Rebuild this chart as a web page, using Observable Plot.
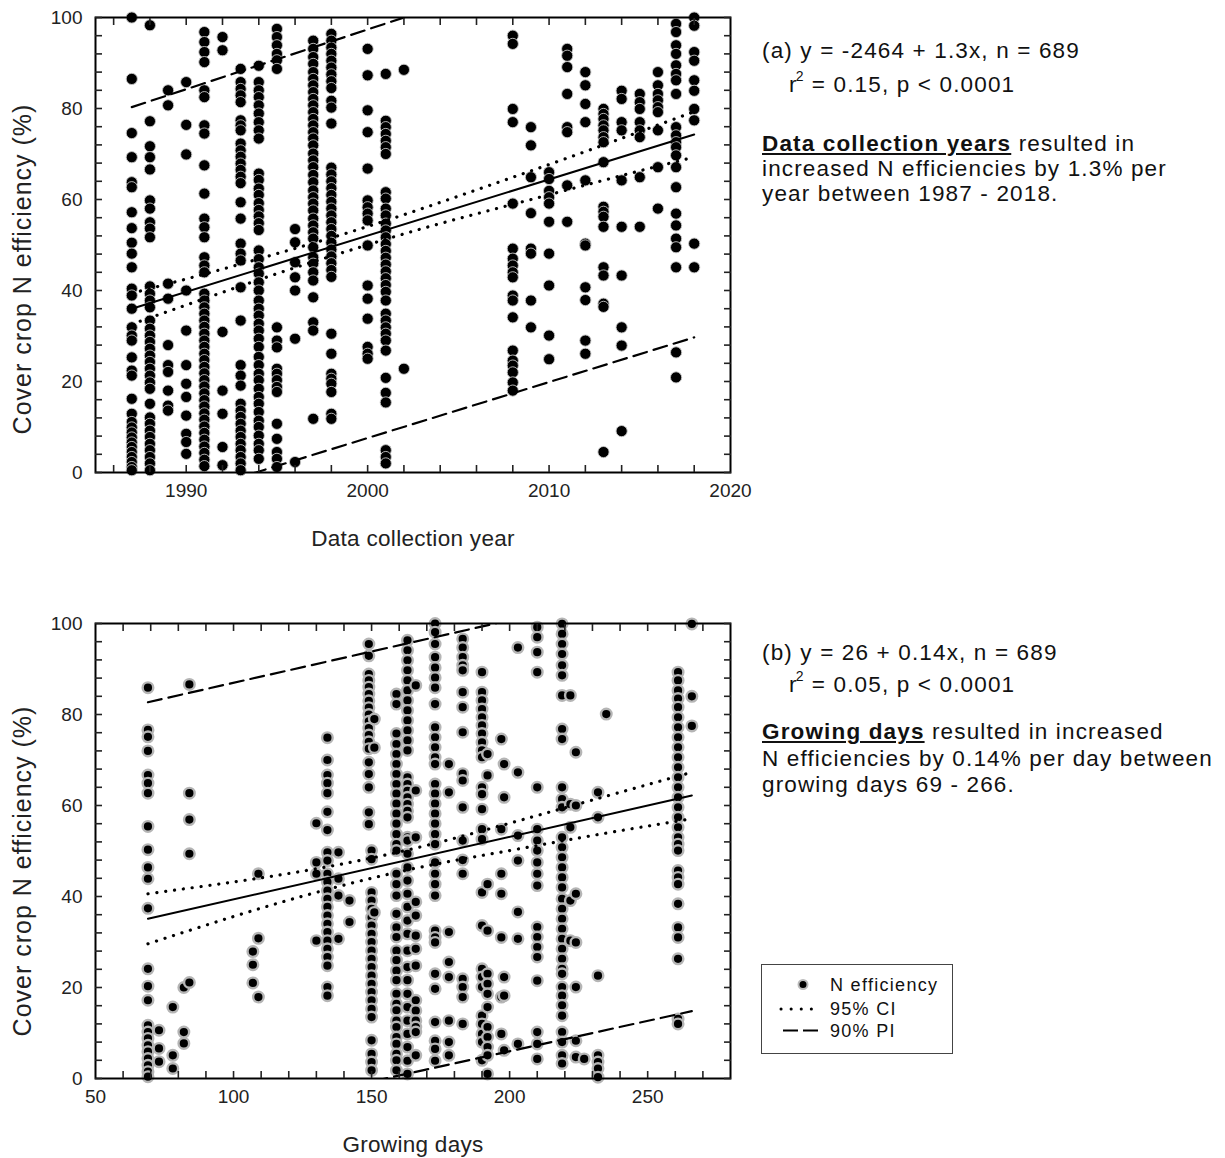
<!DOCTYPE html>
<html><head><meta charset="utf-8">
<script src="https://cdn.jsdelivr.net/npm/d3@7"></script>
<script src="https://cdn.jsdelivr.net/npm/@observablehq/plot@0.6"></script>
<style>
body{margin:0;background:#fff;font-family:Arial,"Liberation Sans",sans-serif;}
#wrap{position:relative;width:1225px;height:1158px;background:#fff;}
.plot{position:absolute;left:0;}
.note{position:absolute;font-size:22.5px;letter-spacing:1.15px;color:#111;white-space:nowrap;line-height:26px;}
.note sup{font-size:14px;letter-spacing:0;vertical-align:0;position:relative;top:-11px;margin-left:-2px;margin-right:1px;}
#legend{position:absolute;left:761px;top:964px;width:190px;height:88px;border:1.5px solid #444;font-size:18px;letter-spacing:1.3px;color:#111;}
#legend svg{position:absolute;left:0;top:0;}
#legend span{position:absolute;left:68px;white-space:nowrap;line-height:20px;}
</style></head>
<body><div id="wrap">
<div id="pa" class="plot" style="top:0"></div>
<div id="pb" class="plot" style="top:606px"></div>

<div class="note" style="left:762px;top:38px">(a) y = -2464 + 1.3x, n = 689</div>
<div class="note" style="left:789px;top:72px">r<sup>2</sup> = 0.15, p &lt; 0.0001</div>
<div class="note" style="left:762px;top:131px;line-height:25px"><b><u>Data collection years</u></b> resulted in<br>increased N efficiencies by 1.3% per<br>year between 1987 - 2018.</div>

<div class="note" style="left:762px;top:640px">(b) y = 26 + 0.14x, n = 689</div>
<div class="note" style="left:789px;top:672px">r<sup>2</sup> = 0.05, p &lt; 0.0001</div>
<div class="note" style="left:762px;top:719px;line-height:26.5px"><b><u>Growing days</u></b> resulted in increased<br>N efficiencies by 0.14% per day between<br>growing days 69 - 266.</div>

<div id="legend">
  <svg width="190" height="88">
    <circle cx="41" cy="19.5" r="4.5" fill="#000" stroke="#bbb" stroke-width="2"/>
    <line x1="19" x2="52" y1="44" y2="44" stroke="#000" stroke-width="3" stroke-dasharray="0.1,10" stroke-linecap="round"/>
    <line x1="21" x2="57" y1="65.5" y2="65.5" stroke="#000" stroke-width="2" stroke-dasharray="15,5"/>
  </svg>
  <span style="top:9.5px">N efficiency</span>
  <span style="top:33.5px">95% CI</span>
  <span style="top:55.5px">90% PI</span>
</div>
</div>
<script>
// ---------- Panel (a): data collection year ----------
const aYear = [1987, 1988, 1989, 1990, 1991, 1992, 1993, 1994, 1995, 1996, 1997, 1998, 2000, 2001, 2002, 2008, 2009, 2010, 2011, 2012, 2013, 2014, 2015, 2016, 2017, 2018];
const aEff = [
  [100, 86.5, 74.6, 69.3, 63.8, 62.7, 57.2, 53.7, 50.5, 48.1, 45.1, 40.4, 38.9, 36.0, 31.9, 30.1, 29.0, 25.3, 22.4, 21.3, 16.2, 12.9, 11.1, 9.9, 8.8, 7.7, 6.6, 5.6, 4.5, 3.4, 2.3, 1.2, 0.5],
  [98.3, 77.2, 71.7, 69.3, 66.6, 59.8, 58.0, 55.0, 53.6, 51.7, 40.9, 39.3, 37.8, 36.3, 33.4, 31.6, 30.1, 28.7, 27.2, 25.7, 24.3, 22.8, 21.3, 19.8, 18.4, 15.1, 12.1, 10.7, 9.2, 7.8, 6.3, 4.9, 3.4, 2.0, 0.5],
  [84.0, 80.7, 41.5, 38.2, 28.0, 23.6, 22.1, 18.0, 14.7, 13.6],
  [85.8, 76.4, 69.9, 40.0, 31.2, 23.6, 19.5, 16.6, 12.5, 8.5, 6.7, 4.1],
  [96.8, 94.6, 92.4, 90.2, 84.0, 82.5, 76.3, 74.5, 67.5, 61.3, 55.8, 53.9, 51.7, 47.3, 45.5, 44.0, 39.3, 37.8, 36.3, 34.9, 33.4, 32.0, 30.5, 29.0, 27.6, 26.1, 24.7, 23.2, 21.8, 20.3, 18.9, 17.4, 15.9, 14.5, 13.0, 11.6, 10.1, 8.7, 7.2, 5.7, 4.3, 2.8, 1.4],
  [95.7, 92.8, 30.9, 18.0, 12.9, 5.6, 1.6],
  [88.7, 85.8, 84.3, 82.9, 81.4, 77.4, 76.3, 75.2, 72.3, 70.8, 69.4, 67.9, 66.5, 65.0, 63.6, 59.4, 55.8, 50.3, 48.1, 46.6, 40.7, 33.4, 23.6, 21.3, 19.1, 15.1, 13.6, 12.2, 10.7, 9.2, 7.8, 6.3, 4.9, 3.4, 2.0, 0.5],
  [89.4, 85.8, 84.0, 82.5, 80.7, 78.9, 77.0, 75.2, 73.4, 65.7, 64.3, 62.4, 61.0, 59.2, 57.7, 56.3, 54.8, 53.3, 48.8, 46.9, 45.1, 43.7, 41.8, 40.0, 37.8, 36.0, 34.5, 32.7, 31.2, 29.4, 27.6, 25.4, 23.6, 21.7, 20.3, 18.4, 16.6, 15.1, 13.3, 11.4, 10.0, 8.1, 6.3, 4.9, 3.0],
  [97.5, 95.7, 93.9, 92.0, 90.6, 88.7, 31.9, 29.0, 27.5, 22.8, 21.7, 20.3, 18.8, 17.7, 10.7, 7.4, 4.5, 3.0, 1.2],
  [53.5, 50.6, 46.2, 42.9, 40.0, 29.4, 2.3],
  [94.9, 93.1, 91.3, 89.8, 88.0, 86.5, 85.1, 83.6, 82.1, 80.7, 79.2, 77.7, 76.3, 74.8, 73.4, 71.9, 70.1, 68.6, 67.1, 65.4, 63.8, 62.0, 60.5, 59.1, 57.6, 55.8, 54.3, 52.8, 51.4, 49.5, 47.3, 45.9, 44.0, 42.2, 38.5, 33.0, 31.2, 11.8],
  [96.4, 94.9, 93.4, 92.0, 90.5, 89.0, 87.5, 86.0, 84.5, 81.7, 80.2, 76.7, 67.0, 65.5, 64.0, 62.5, 61.0, 59.5, 58.0, 56.5, 55.0, 53.5, 52.0, 50.5, 49.0, 47.5, 46.0, 44.5, 43.0, 30.5, 26.1, 21.7, 20.6, 19.5, 17.7, 12.9, 11.8],
  [93.1, 87.3, 79.6, 74.8, 66.8, 59.8, 58.3, 56.9, 55.4, 49.9, 41.1, 38.2, 33.8, 27.6, 26.1, 25.0],
  [87.6, 77.3, 75.9, 74.4, 72.9, 71.5, 70.0, 61.6, 60.2, 58.0, 56.5, 54.7, 53.2, 51.7, 50.2, 48.7, 47.2, 45.7, 44.2, 42.7, 41.2, 39.7, 37.8, 34.9, 33.4, 31.9, 30.5, 29.0, 26.8, 20.8, 17.5, 15.4, 4.9, 3.4, 2.0],
  [88.5, 22.8],
  [96.0, 94.2, 79.9, 77.0, 59.1, 49.2, 47.0, 45.5, 44.0, 42.9, 38.9, 37.8, 34.1, 26.8, 24.6, 23.5, 22.0, 19.8, 18.0],
  [75.9, 71.9, 64.9, 57.0, 49.2, 48.1, 37.8, 31.9],
  [66.0, 64.5, 61.9, 60.5, 59.1, 55.1, 48.1, 41.1, 30.1, 24.9],
  [93.1, 91.6, 89.1, 83.2, 75.9, 74.8, 63.1, 55.1],
  [88.0, 85.1, 81.0, 77.0, 64.2, 50.3, 49.9, 40.7, 37.9, 29.0, 26.1],
  [79.9, 78.8, 77.7, 76.3, 75.2, 73.7, 72.6, 68.2, 58.4, 57.3, 56.2, 54.0, 45.1, 43.3, 37.1, 36.4, 4.5],
  [83.9, 82.1, 77.0, 75.2, 64.2, 54.0, 43.3, 31.9, 27.9, 9.1],
  [83.2, 81.4, 79.9, 77.0, 75.2, 73.7, 64.9, 54.0],
  [88.0, 85.1, 83.2, 81.8, 80.3, 79.2, 75.2, 67.1, 58.0],
  [98.6, 96.8, 93.9, 92.0, 89.5, 87.6, 86.2, 83.2, 75.9, 74.1, 72.6, 71.5, 69.7, 67.1, 62.7, 56.9, 54.3, 51.4, 49.5, 45.1, 26.4, 20.9],
  [100, 98.2, 92.4, 90.5, 86.2, 83.9, 79.9, 77.4, 50.3, 45.1]
];
const aFitX = [1987, 2018];
const aFitY = [36.0, 74.3];
const aCiX = [1987, 1991, 1995, 1999, 2003, 2007, 2011, 2015, 2018];
const aCiLo = [32.6, 38.2, 43.7, 48.8, 53.6, 57.9, 62.1, 66.3, 69.3];
const aCiHi = [39.4, 43.6, 48.1, 52.8, 58.0, 63.5, 69.1, 74.9, 79.3];
const aPiX = [1987, 2018];
const aPiLo = [-8.4, 29.7];
const aPiHi = [80.3, 121.0];
const aXTicks = [1990, 2000, 2010, 2020];

// ---------- Panel (b): growing days ----------
const bDays = [69, 73, 78, 82, 84, 107, 109, 130, 134, 138, 142, 149, 150, 151, 159, 163, 166, 173, 178, 183, 190, 192, 197, 198, 203, 210, 219, 222, 224, 227, 232, 235, 261, 266];
const bEff = [
  [85.9, 76.6, 75.1, 72.0, 66.7, 64.9, 62.7, 55.4, 50.3, 46.4, 43.9, 37.4, 24.1, 20.3, 17.2, 11.7, 10.2, 8.8, 7.3, 5.9, 4.4, 2.9, 1.5, 0.4],
  [10.6, 6.6, 3.7],
  [15.7, 5.1, 2.2],
  [20.0, 10.2, 7.7],
  [86.6, 62.7, 56.9, 49.4, 21.1],
  [27.9, 25.0, 21.0],
  [45.0, 30.8, 17.9],
  [56.1, 47.5, 45.0, 30.3],
  [74.9, 70.0, 66.7, 64.9, 62.7, 58.6, 54.6, 49.7, 47.9, 45.0, 43.2, 41.3, 39.5, 37.7, 35.8, 34.0, 32.2, 30.3, 28.5, 26.7, 24.8, 20.1, 18.2],
  [49.7, 43.9, 40.2, 30.7],
  [39.1, 34.4],
  [95.5, 92.9, 88.9, 87.5, 86.0, 84.5, 83.0, 81.5, 80.0, 78.5, 77.0, 75.5, 74.0, 72.5, 69.5, 66.9, 64.0, 58.5, 55.9],
  [50.1, 48.2, 40.9, 39.1, 37.3, 35.4, 33.6, 31.8, 30.0, 28.1, 26.3, 24.5, 22.6, 20.8, 19.0, 17.2, 15.3, 13.5, 8.4, 5.4, 3.6, 1.8],
  [79.0, 72.7, 36.5],
  [84.5, 82.3, 75.8, 73.5, 71.3, 69.1, 66.9, 64.7, 62.6, 60.4, 58.2, 56.0, 53.7, 51.5, 50.1, 45.0, 42.7, 40.2, 36.2, 33.2, 31.1, 28.1, 26.0, 23.7, 21.6, 18.6, 16.4, 15.0, 12.7, 11.3, 9.1, 7.6, 5.4, 4.0, 1.8],
  [96.3, 94.1, 91.9, 89.7, 87.5, 85.3, 83.1, 80.9, 78.7, 76.5, 74.3, 72.1, 66.2, 64.7, 63.2, 61.8, 60.3, 58.8, 57.4, 53.0, 52.3, 49.4, 46.4, 43.5, 40.6, 37.7, 34.7, 31.8, 28.1, 24.5, 21.6, 18.6, 15.7, 12.7, 9.8, 6.9, 3.9, 1.0],
  [86.4, 63.3, 53.0, 38.8, 35.8, 31.4, 28.5, 24.8, 17.2, 14.9, 12.7, 11.3, 10.2, 5.1],
  [100, 98.1, 95.5, 92.6, 90.3, 88.1, 85.9, 82.3, 77.2, 75.0, 72.8, 70.6, 69.1, 64.7, 62.6, 60.4, 58.2, 56.0, 53.7, 51.5, 47.5, 45.0, 42.7, 40.2, 32.5, 31.0, 29.9, 23.0, 19.7, 12.4, 8.3, 6.5, 3.9],
  [69.1, 62.9, 32.2, 25.6, 22.3, 12.7, 8.0, 5.1],
  [96.6, 94.7, 92.6, 90.8, 89.7, 84.9, 81.6, 76.1, 67.0, 65.5, 59.6, 52.3, 48.0, 45.0, 21.9, 20.1, 17.9, 12.0],
  [89.3, 84.9, 83.1, 81.2, 79.4, 77.6, 75.8, 73.9, 72.1, 70.6, 64.0, 62.5, 59.2, 54.8, 52.6, 40.9, 33.6, 24.1, 22.3, 20.1, 13.8, 12.0, 9.8, 8.0, 4.0],
  [71.3, 66.6, 42.7, 32.5, 23.0, 20.8, 18.6, 15.7, 11.3, 9.1, 6.9, 5.1, 1.0],
  [74.6, 54.8, 45.0, 40.6, 31.0, 17.9, 9.8],
  [69.1, 61.8, 22.3, 18.2, 6.2],
  [94.7, 67.3, 53.4, 47.9, 36.6, 30.7, 7.6],
  [99.2, 97.0, 93.7, 89.3, 64.0, 54.8, 52.3, 50.1, 47.5, 45.0, 42.4, 33.3, 31.1, 28.9, 26.7, 21.5, 10.2, 7.6, 4.3],
  [99.9, 97.7, 95.5, 93.3, 90.8, 88.6, 84.2, 76.8, 74.6, 64.0, 61.4, 59.6, 53.0, 50.8, 48.6, 46.4, 44.2, 42.0, 39.5, 37.3, 35.1, 32.9, 30.7, 28.5, 26.3, 24.1, 23.0, 20.1, 18.2, 16.1, 13.8, 10.2, 8.0, 5.1, 3.3],
  [84.2, 60.3, 55.2, 39.1, 30.3],
  [71.7, 60.0, 40.6, 29.9, 20.1, 8.3, 4.7],
  [4.3],
  [62.9, 57.4, 22.6, 5.1, 3.6, 2.2, 0.3],
  [80.1],
  [89.3, 87.5, 85.3, 83.5, 81.6, 79.4, 77.2, 75.0, 72.8, 70.6, 68.4, 66.2, 64.0, 61.8, 59.6, 57.4, 55.2, 53.0, 51.5, 50.1, 45.7, 44.2, 42.7, 38.4, 33.2, 31.0, 26.3, 13.1, 12.0],
  [99.9, 84.0, 77.5]
];
const bFitX = [69, 266];
const bFitY = [35.1, 62.2];
const bCiX = [69, 100, 130, 165, 200, 230, 266];
const bCiLo = [29.6, 35.6, 40.9, 46.1, 50.1, 53.4, 57.1];
const bCiHi = [40.6, 43.2, 46.1, 50.5, 56.1, 61.2, 67.3];
const bPiX = [69, 266];
const bPiLo = [-11.5, 14.8];
const bPiHi = [82.7, 109.8];
const bXTicks = [50, 100, 150, 200, 250];

const yLabels = [0, 20, 40, 60, 80, 100];
const yMinor = d3.range(0, 101, 4);
const yTitle = "Cover crop N efficiency (%)";

const FONT = 'Arial, "Liberation Sans", sans-serif';

function flatten(xs, ys) {
  const out = [];
  xs.forEach((x, i) => ys[i].forEach(y => out.push({x, y})));
  return out;
}
function pairs(xs, ys) { return xs.map((x, i) => ({x, y: ys[i]})); }

function panel(o) {
  const svg = Plot.plot({
    width: 760, height: 560,
    marginLeft: 95, marginRight: 30, marginTop: 17, marginBottom: 88,
    x: {domain: o.xDomain, label: null},
    y: {domain: [0, 100], label: null},
    style: {fontFamily: FONT, fontSize: "19px", color: "#222", background: "white", overflow: "visible"},
    marks: [
      Plot.dot(o.pts, {x: "x", y: "y", r: o.r, fill: "black", stroke: o.dotStroke, strokeWidth: o.dotStrokeWidth}),
      Plot.line(pairs(o.piX, o.piLo), {x: "x", y: "y", stroke: "black", strokeWidth: 2.2, strokeDasharray: "14,7", clip: true}),
      Plot.line(pairs(o.piX, o.piHi), {x: "x", y: "y", stroke: "black", strokeWidth: 2.2, strokeDasharray: "14,7", clip: true}),
      Plot.line(pairs(o.ciX, o.ciLo), {x: "x", y: "y", stroke: "black", strokeWidth: 3.2, strokeDasharray: "0.1,8.8", strokeLinecap: "round", curve: "natural"}),
      Plot.line(pairs(o.ciX, o.ciHi), {x: "x", y: "y", stroke: "black", strokeWidth: 3.2, strokeDasharray: "0.1,8.8", strokeLinecap: "round", curve: "natural"}),
      Plot.line(pairs(o.fitX, o.fitY), {x: "x", y: "y", stroke: "black", strokeWidth: 2}),
      Plot.frame({stroke: "black", strokeWidth: 2}),
      Plot.axisX({ticks: o.xTicks, tickSize: 0, tickPadding: 11, tickFormat: d => String(d), label: null, fill: "#222"}),
      Plot.axisX({ticks: o.xMinor, tickSize: 7, dy: -7, fill: "none", label: null, strokeWidth: 1.6}),
      Plot.axisX({anchor: "top", ticks: o.xMinor, tickSize: 7, dy: 7, fill: "none", label: null, strokeWidth: 1.6}),
      Plot.axisY({ticks: yLabels, tickSize: 0, tickPadding: 13, label: null, fill: "#222"}),
      Plot.axisY({ticks: yMinor, tickSize: 7, dx: 7, fill: "none", label: null, strokeWidth: 1.6}),
      Plot.axisY({anchor: "right", ticks: yMinor, tickSize: 7, dx: -7, fill: "none", label: null, strokeWidth: 1.6}),
      Plot.text([o.xLabel], {frameAnchor: "bottom", dy: 73, fontSize: 22.5, fill: "#222", textAnchor: "middle"}),
      Plot.text([yTitle], {frameAnchor: "left", rotate: -90, dx: -73, dy: o.yTitleDy, fontSize: 25, fill: "#222", textAnchor: "middle"})
    ]
  });
  svg.querySelectorAll("text").forEach(t => {
    if (t.textContent === yTitle) t.style.letterSpacing = "1px";
    if (t.textContent === o.xLabel) t.style.letterSpacing = "0.3px";
  });
  return svg;
}

document.getElementById("pa").append(panel({
  pts: flatten(aYear, aEff), xDomain: [1985, 2020], xTicks: aXTicks, xMinor: d3.range(1986, 2020, 2),
  xLabel: "Data collection year", r: 5.6, dotStroke: "#c8c8c8", dotStrokeWidth: 0.9, yTitleDy: 24,
  fitX: aFitX, fitY: aFitY, ciX: aCiX, ciLo: aCiLo, ciHi: aCiHi, piX: aPiX, piLo: aPiLo, piHi: aPiHi
}));
document.getElementById("pb").append(panel({
  pts: flatten(bDays, bEff), xDomain: [50, 280], xTicks: bXTicks, xMinor: d3.range(60, 280, 10),
  xLabel: "Growing days", r: 5.3, dotStroke: "#b5b5b5", dotStrokeWidth: 2.4, yTitleDy: 20,
  fitX: bFitX, fitY: bFitY, ciX: bCiX, ciLo: bCiLo, ciHi: bCiHi, piX: bPiX, piLo: bPiLo, piHi: bPiHi
}));
</script>
</body></html>
